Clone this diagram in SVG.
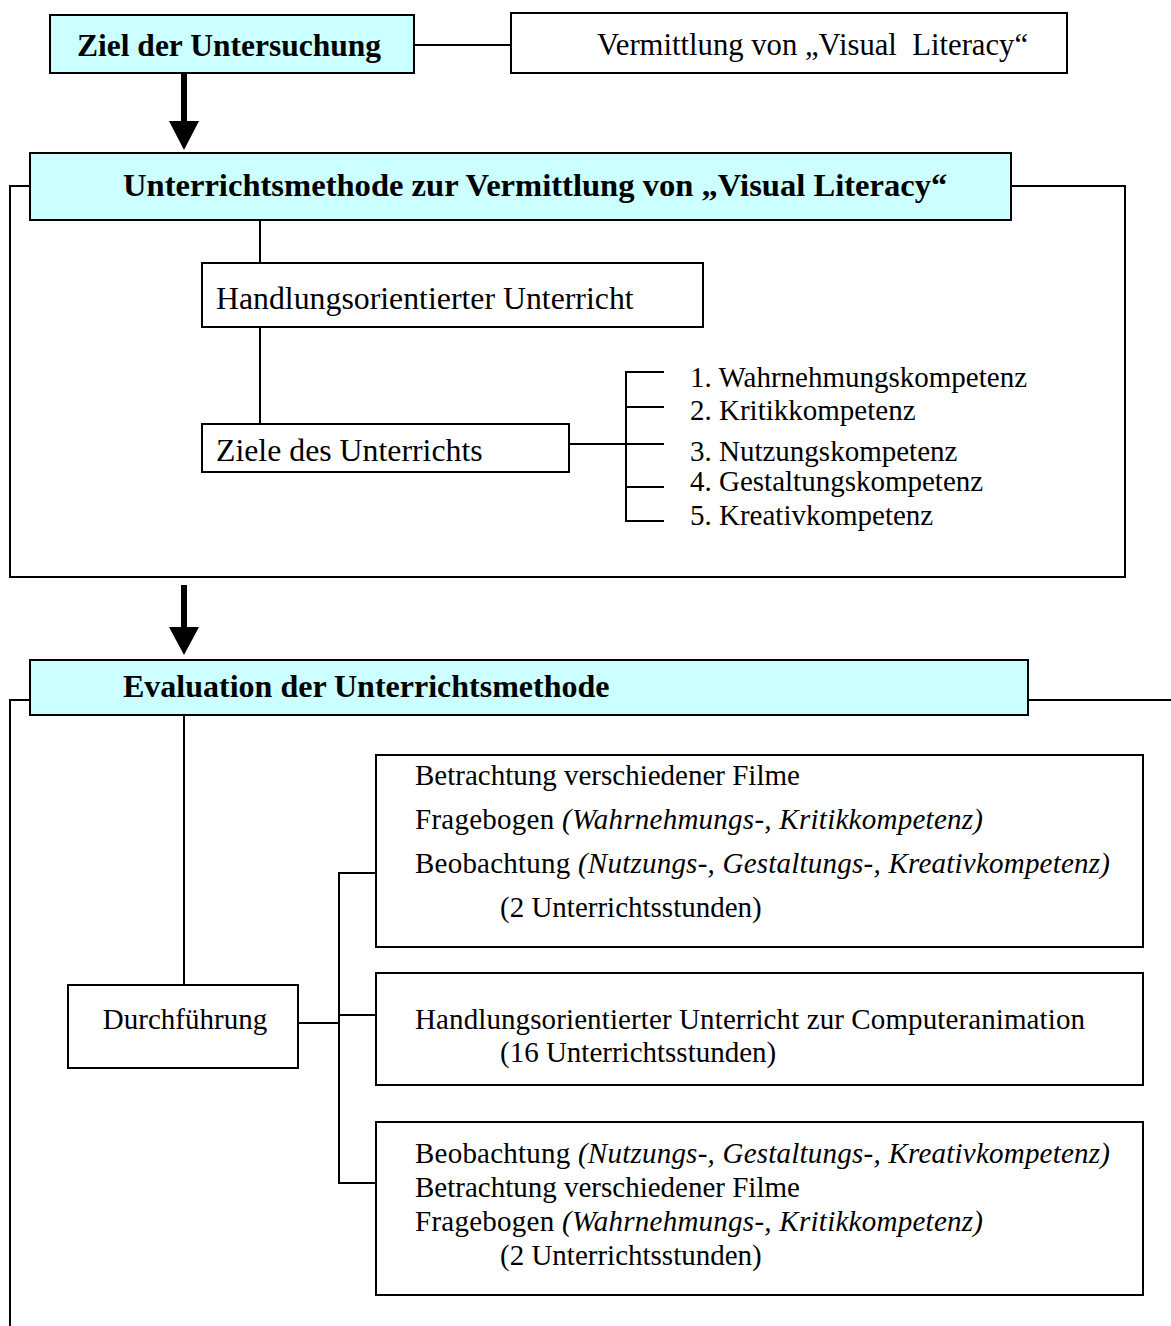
<svg xmlns="http://www.w3.org/2000/svg" width="1171" height="1326" viewBox="0 0 1171 1326">
<style>
.box{fill:#fff;stroke:#000;stroke-width:2}
.hbox{fill:#ccffff;stroke:#000;stroke-width:2}
.t{font-family:"Liberation Serif","Times New Roman",serif;font-size:29px;fill:#000}
.b{font-family:"Liberation Serif","Times New Roman",serif;font-size:32px;font-weight:bold;fill:#000}
.i{font-style:italic}
.ln{fill:none;stroke:#000;stroke-width:2}
.arr{fill:#000}
</style>
<rect width="1171" height="1326" fill="#fff"/>
<g id="connectors">
<line class="ln" x1="414" y1="45" x2="511" y2="45"/>
<path class="ln" d="M30,186 H10 V577 H1125 V186 H1011"/>
<line class="ln" x1="260" y1="220" x2="260" y2="263"/>
<line class="ln" x1="260" y1="327" x2="260" y2="424"/>
<line class="ln" x1="569" y1="444" x2="626" y2="444"/>
<path class="ln" d="M664,372 H626 V521 H664"/>
<line class="ln" x1="626" y1="407" x2="664" y2="407"/>
<line class="ln" x1="626" y1="444" x2="664" y2="444"/>
<line class="ln" x1="626" y1="487" x2="664" y2="487"/>
<path class="ln" d="M30,700 H10 V1326"/>
<line class="ln" x1="1028" y1="700" x2="1171" y2="700"/>
<line class="ln" x1="184" y1="715" x2="184" y2="985"/>
<line class="ln" x1="298" y1="1023" x2="339" y2="1023"/>
<path class="ln" d="M376,873 H339 V1183 H376"/>
<line class="ln" x1="339" y1="1015" x2="376" y2="1015"/>
<g id="arrow1"><rect class="arr" x="181" y="73" width="6" height="50"/><polygon class="arr" points="169,121 199,121 184,150"/></g>
<g id="arrow2"><rect class="arr" x="181" y="585" width="6" height="44"/><polygon class="arr" points="169,627 199,627 184,655"/></g>
</g>
<g id="ziel"><rect class="hbox" x="50" y="15" width="364" height="58"/><text class="b" x="77" y="56" style="font-size:31.5px">Ziel der Untersuchung</text></g>
<g id="vermittlung"><rect class="box" x="511" y="13" width="556" height="60"/><text class="t" x="597" y="55" style="font-size:30.7px" xml:space="preserve">Vermittlung von „Visual  Literacy“</text></g>
<g id="methode"><rect class="hbox" x="30" y="153" width="981" height="67"/><text class="b" x="123" y="196" style="font-size:32.6px">Unterrichtsmethode zur Vermittlung von „Visual Literacy“</text></g>
<g id="handlung"><rect class="box" x="202" y="263" width="501" height="64"/><text class="t" x="216" y="309" style="font-size:31.8px">Handlungsorientierter Unterricht</text></g>
<g id="ziele"><rect class="box" x="202" y="424" width="367" height="48"/><text class="t" x="216" y="461" style="font-size:31.8px">Ziele des Unterrichts</text></g>
<g id="kompetenzen">
<text class="t" x="690" y="387">1. Wahrnehmungskompetenz</text>
<text class="t" x="690" y="420">2. Kritikkompetenz</text>
<text class="t" x="690" y="461">3. Nutzungskompetenz</text>
<text class="t" x="690" y="491">4. Gestaltungskompetenz</text>
<text class="t" x="690" y="525">5. Kreativkompetenz</text>
</g>
<g id="evaluation"><rect class="hbox" x="30" y="660" width="998" height="55"/><text class="b" x="123" y="697">Evaluation der Unterrichtsmethode</text></g>
<g id="durchfuehrung"><rect class="box" x="68" y="985" width="230" height="83"/><text class="t" x="185" y="1029" text-anchor="middle">Durchführung</text></g>
<g id="phase1"><rect class="box" x="376" y="755" width="767" height="192"/>
<text class="t" x="415" y="785">Betrachtung verschiedener Filme</text>
<text class="t" x="415" y="829" textLength="568">Fragebogen <tspan class="i">(Wahrnehmungs-, Kritikkompetenz)</tspan></text>
<text class="t" x="415" y="873" textLength="695">Beobachtung <tspan class="i">(Nutzungs-, Gestaltungs-, Kreativkompetenz)</tspan></text>
<text class="t" x="500" y="917">(2 Unterrichtsstunden)</text>
</g>
<g id="phase2"><rect class="box" x="376" y="973" width="767" height="112"/>
<text class="t" x="415" y="1029" textLength="670">Handlungsorientierter Unterricht zur Computeranimation</text>
<text class="t" x="500" y="1062">(16 Unterrichtsstunden)</text>
</g>
<g id="phase3"><rect class="box" x="376" y="1122" width="767" height="173"/>
<text class="t" x="415" y="1163" textLength="695">Beobachtung <tspan class="i">(Nutzungs-, Gestaltungs-, Kreativkompetenz)</tspan></text>
<text class="t" x="415" y="1197">Betrachtung verschiedener Filme</text>
<text class="t" x="415" y="1231" textLength="568">Fragebogen <tspan class="i">(Wahrnehmungs-, Kritikkompetenz)</tspan></text>
<text class="t" x="500" y="1265">(2 Unterrichtsstunden)</text>
</g>
</svg>
